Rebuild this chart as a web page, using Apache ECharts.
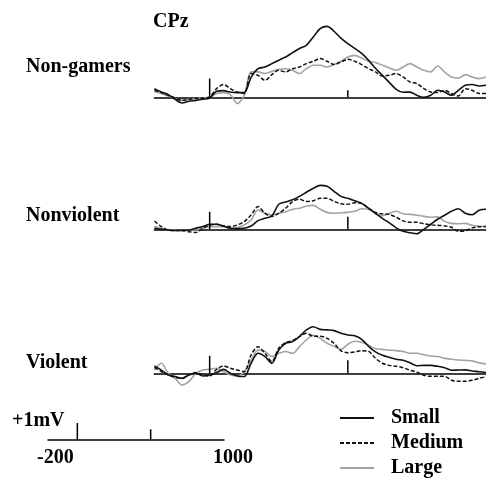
<!DOCTYPE html>
<html><head><meta charset="utf-8">
<script src="https://cdn.jsdelivr.net/npm/echarts@6/dist/echarts.min.js"></script>
<style>html,body{margin:0;padding:0;background:#fff}#c{width:486px;height:479px}</style>
</head><body><div id="c"></div>
<script>
// time axis (ms)
const times = [-200,-175,-150,-125,-100,-75,-50,-25,0,25,50,75,100,125,150,175,200,225,250,275,300,325,350,375,400,425,450,475,500,525,550,575,600,625,650,675,700,725,750,775,800,825,850,875,900,925,950,975,1000];

// amplitudes (µV) — Non-gamers
const nonGamersSmall  = [0.48,0.29,0.15,-0.11,-0.32,-0.22,-0.17,-0.11,-0.04,0.33,0.37,0.29,0.26,0.26,1.11,1.59,1.68,1.87,2.06,2.24,2.48,2.71,2.89,3.35,3.82,3.94,3.67,3.29,2.98,2.72,2.44,2.06,1.61,1.22,0.83,0.44,0.28,0.29,0.11,0,0.11,0.39,0.29,0.11,0.39,0.67,0.71,0.63,0.67];
const nonGamersMedium = [0.39,0.26,0.11,-0.04,-0.17,-0.11,-0.07,-0.04,0.02,0.48,0.71,0.48,0.29,0.21,1.32,1.22,0.94,1.26,1.5,1.41,1.59,1.68,1.87,2.0,2.15,2.0,1.82,1.96,2.11,2.0,1.82,1.59,1.41,1.18,1.22,1.32,1.13,0.85,0.76,0.48,0.29,0.26,0.39,0.21,0.07,0.48,0.39,0.21,0.21];
const nonGamersLarge  = [0.33,0.21,0.07,-0.07,-0.17,-0.11,-0.07,-0.04,0,0.21,0.26,0.15,-0.35,0.11,1.41,1.41,1.32,1.44,1.56,1.59,1.5,1.32,1.59,1.78,1.78,1.68,1.82,2.0,2.24,2.33,2.18,2.0,1.93,1.78,1.63,1.5,1.68,1.87,1.68,1.5,1.41,1.74,1.41,1.13,1.07,1.26,1.13,1.04,1.13];

// Nonviolent
const nonviolentSmall  = [0.06,0,-0.04,-0.07,-0.06,-0.04,0.06,0.15,0.28,0.28,0.18,0.06,0.04,0.06,0.18,0.48,0.61,0.74,1.39,1.52,1.64,1.83,2.06,2.28,2.44,2.39,2.11,1.83,1.72,1.58,1.44,1.17,0.89,0.61,0.36,0.08,-0.11,-0.19,-0.25,0,0.28,0.56,0.78,1.0,1.14,0.89,0.81,1.06,1.11];
const nonviolentMedium = [0.46,0.15,-0.04,-0.07,-0.07,-0.13,-0.18,0.06,0.24,0.28,0.18,0.15,0.24,0.43,0.79,1.26,0.89,0.71,0.89,1.17,1.54,1.67,1.54,1.59,1.72,1.72,1.56,1.42,1.39,1.47,1.44,1.17,0.94,0.86,0.83,0.67,0.47,0.39,0.39,0.31,0.25,0.22,0.19,0.11,-0.11,-0.08,0.08,0.14,0.15];
const nonviolentLarge  = [0.15,0.06,-0.04,-0.04,-0.04,-0.04,-0.04,0.06,0.15,0.15,0.15,0.06,0.09,0.24,0.52,1.07,0.89,0.79,0.89,0.98,1.11,1.17,1.29,1.33,1.11,0.94,0.89,0.92,0.94,1.0,1.14,1.11,0.89,0.75,0.89,1.0,0.86,0.83,0.78,0.72,0.67,0.69,0.44,0.33,0.31,0.33,0.22,0.17,0.15];

// Violent
const violentSmall  = [0.41,0.18,-0.09,-0.18,-0.28,-0.09,0,-0.15,-0.09,0.04,0.22,0,-0.15,-0.18,0.56,1.11,0.93,0.56,1.29,1.67,1.76,2.04,2.41,2.59,2.44,2.41,2.37,2.22,2.13,2.08,1.89,1.5,1.19,1.0,0.89,0.78,0.72,0.58,0.42,0.44,0.44,0.39,0.31,0.17,0.18,0.19,0.13,0.09,0.04];
const violentMedium = [0.33,0.09,-0.09,-0.22,-0.28,-0.09,0.04,-0.09,-0.15,0.22,0.41,0.28,0.18,0.09,1.02,1.48,1.11,0.65,1.39,1.71,1.82,2.04,2.22,2.06,2.06,1.94,1.67,1.25,1.14,1.19,1.25,1.22,0.83,0.56,0.44,0.39,0.31,0.17,0.06,-0.11,-0.17,-0.17,-0.17,-0.39,-0.44,-0.44,-0.39,-0.28,-0.19];
const violentLarge  = [0.18,0.56,0,-0.28,-0.65,-0.45,0,0.18,0.22,0.28,0.09,-0.09,-0.15,0.09,0.74,1.29,1.21,0.93,1.11,1.21,1.11,1.48,1.85,2.11,1.94,1.67,1.5,1.33,1.61,1.78,1.72,1.56,1.36,1.33,1.29,1.26,1.21,1.11,1.11,1.03,0.96,0.93,0.83,0.78,0.74,0.72,0.69,0.58,0.52];

const panelNames = ['Non-gamers', 'Nonviolent', 'Violent'];
const seriesNames = ['Small', 'Medium', 'Large'];
const electrode = 'CPz';
const tickTimes = [0, 500];
const tickHeights = [[1.05, 0.39], [0.97, 0.70], [0.97, 0.72]];
const scaleTickHeights = [0.94, 0.60];
const scaleLabels = ['-200', '1000'];
const scaleUnit = '+1mV';
const timeRange = [-200, 1000];

const panelData = [
  [nonGamersSmall, nonGamersMedium, nonGamersLarge],
  [nonviolentSmall, nonviolentMedium, nonviolentLarge],
  [violentSmall, violentMedium, violentLarge]
];

// layout
const PX = 18; // px per µV
const baselines = [97.3, 229.3, 373.3];
const FONT = 'Liberation Serif';
const lineStyles = [
  {color: '#111', width: 1.6, type: 'solid'},
  {color: '#111', width: 1.5, type: [4, 2]},
  {color: '#a3a3a3', width: 1.6, type: 'solid'}
];

const grid = [], xAxis = [], yAxis = [], series = [];
baselines.forEach((b, p) => {
  grid.push({left: 154.4, width: 334, top: b - 4 * PX, height: 5 * PX});
  xAxis.push({type: 'value', gridIndex: p, min: timeRange[0], max: timeRange[1],
    axisLine: {show: true, onZero: true, lineStyle: {color: '#000', width: 1.5}},
    axisTick: {show: false}, axisLabel: {show: false}, splitLine: {show: false}});
  yAxis.push({type: 'value', gridIndex: p, min: -1, max: 4, show: false});
  panelData[p].forEach((vals, k) => {
    series.push({type: 'line', name: seriesNames[k], xAxisIndex: p, yAxisIndex: p,
      data: times.map((t, i) => [t, vals[i]]), symbol: 'none', smooth: 0.3,
      lineStyle: lineStyles[k], itemStyle: {color: lineStyles[k].color}, z: 3 - k, silent: true});
  });
  tickTimes.forEach((t, j) => {
    series.push({type: 'line', xAxisIndex: p, yAxisIndex: p, data: [[t, 0], [t, tickHeights[p][j]]],
      symbol: 'none', lineStyle: {color: '#000', width: 1.5}, silent: true});
  });
});
// scale bar
grid.push({left: 48, width: 176, top: 440 - PX, height: PX});
xAxis.push({type: 'value', gridIndex: 3, min: timeRange[0], max: timeRange[1],
  axisLine: {show: true, lineStyle: {color: '#000', width: 1.5}},
  axisTick: {show: false}, axisLabel: {show: false}, splitLine: {show: false}});
yAxis.push({type: 'value', gridIndex: 3, min: 0, max: 1, show: false});
tickTimes.forEach((t, j) => {
  series.push({type: 'line', xAxisIndex: 3, yAxisIndex: 3, data: [[t, 0], [t, scaleTickHeights[j]]],
    symbol: 'none', lineStyle: {color: '#000', width: 1.5}, silent: true});
});

const txt = (s, x, y) => ({type: 'text', left: x, top: y - 11, style: {text: s, font: 'bold 20px "' + FONT + '"', fill: '#000'}});
const graphic = [
  txt(electrode, 153, 23),
  txt(panelNames[0], 26, 68),
  txt(panelNames[1], 26, 217),
  txt(panelNames[2], 26, 363.5),
  txt(scaleUnit, 12, 421.5),
  txt(scaleLabels[0], 37, 459),
  txt(scaleLabels[1], 213, 459)
];

const chart = echarts.init(document.getElementById('c'), null, {renderer: 'canvas'});
chart.setOption({
  animation: false,
  backgroundColor: '#fff',
  grid, xAxis, yAxis, series, graphic,
  legend: {data: seriesNames, orient: 'vertical', left: 339, top: 408, padding: 0,
    itemWidth: 34, itemHeight: 12, itemGap: 5, selectedMode: false,
    itemStyle: {opacity: 0},
    textStyle: {fontFamily: FONT, fontWeight: 'bold', fontSize: 20, color: '#000', lineHeight: 20, padding: [0, 0, 0, 12]}}
});
</script></body></html>
